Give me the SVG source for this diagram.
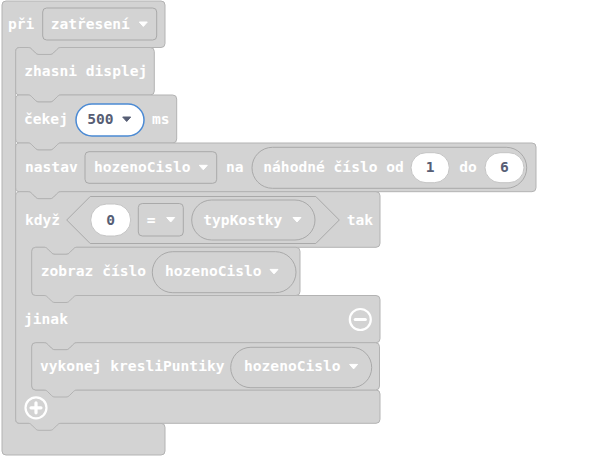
<svg xmlns="http://www.w3.org/2000/svg" width="589" height="456" viewBox="0 0 589 456">
<style>
.blk{fill:#d3d3d3;stroke:#b3b3b3;stroke-width:1}
.fld{fill:#d3d3d3;stroke:#a9a9a9;stroke-width:1}
.wht{fill:#ffffff;stroke:#c4c4c4;stroke-width:1}
.sel{fill:#ffffff;stroke:#4b8ad4;stroke-width:1.5}
.t{font-family:"DejaVu Sans Mono","Liberation Mono",monospace;font-weight:bold;font-size:14.6px;fill:#ffffff}
.d{fill:#575e75}
.m{text-anchor:middle}
.aw{fill:#ffffff;stroke:#ffffff;stroke-width:1;stroke-linejoin:round}
.ad{fill:#575e75;stroke:#575e75;stroke-width:1;stroke-linejoin:round}
.ic{fill:none;stroke:#ffffff;stroke-width:2.2}
.bar{fill:none;stroke:#ffffff;stroke-width:3.2;stroke-linecap:round}
</style>
<rect width="589" height="456" fill="#ffffff"/>
<g id="hat-pri-zatreseni">
<path class="blk" d="M2,5 Q2,1 6,1 H161 Q165,1 165,5 V43.5 Q165,47.5 161,47.5 H60.8 c -1.8,0 -2.7,0.9 -3.6,1.8 l -3.6,3.6 c -0.9,0.9 -1.8,1.6 -3.6,1.6 h -11 c -1.8,0 -2.7,-0.7 -3.6,-1.6 l -3.6,-3.6 c -0.9,-0.9 -1.8,-1.8 -3.6,-1.8 H19.7 Q15.7,47.5 15.7,51.5 V419.3 Q15.7,423.3 19.7,423.3 H161 Q165,423.3 165,427.3 V451 Q165,455 161,455 H6 Q2,455 2,451 Z"/>
<text class="t" x="8" y="29">při</text>
<rect class="fld" x="42.7" y="8" width="114" height="32" rx="4"/>
<text class="t" x="50.7" y="29">zatřesení</text>
<path class="aw" d="M139.3,22 h8 l-4,4.5 z"/>
</g>
<g id="zhasni-displej">
<path class="blk" d="M15.7,51.5 Q15.7,47.5 19.7,47.5 H28.2 c 1.8,0 2.7,0.9 3.6,1.8 l 3.6,3.6 c 0.9,0.9 1.8,1.6 3.6,1.6 h 11 c 1.8,0 2.7,-0.7 3.6,-1.6 l 3.6,-3.6 c 0.9,-0.9 1.8,-1.8 3.6,-1.8 H150.3 Q154.3,47.5 154.3,51.5 V91 Q154.3,95 150.3,95 H60.8 c -1.8,0 -2.7,0.9 -3.6,1.8 l -3.6,3.6 c -0.9,0.9 -1.8,1.6 -3.6,1.6 h -11 c -1.8,0 -2.7,-0.7 -3.6,-1.6 l -3.6,-3.6 c -0.9,-0.9 -1.8,-1.8 -3.6,-1.8 H19.7 Q15.7,95 15.7,91 Z"/>
<text class="t" x="24.3" y="76.3">zhasni displej</text>
</g>
<g id="cekej">
<path class="blk" d="M15.7,99 Q15.7,95 19.7,95 H28.2 c 1.8,0 2.7,0.9 3.6,1.8 l 3.6,3.6 c 0.9,0.9 1.8,1.6 3.6,1.6 h 11 c 1.8,0 2.7,-0.7 3.6,-1.6 l 3.6,-3.6 c 0.9,-0.9 1.8,-1.8 3.6,-1.8 H172.7 Q176.7,95 176.7,99 V139 Q176.7,143 172.7,143 H60.8 c -1.8,0 -2.7,0.9 -3.6,1.8 l -3.6,3.6 c -0.9,0.9 -1.8,1.6 -3.6,1.6 h -11 c -1.8,0 -2.7,-0.7 -3.6,-1.6 l -3.6,-3.6 c -0.9,-0.9 -1.8,-1.8 -3.6,-1.8 H19.7 Q15.7,143 15.7,139 Z"/>
<text class="t" x="24" y="124">čekej</text>
<rect class="sel" x="76" y="104" width="68" height="32" rx="16"/>
<text class="t d" x="87.3" y="124">500</text>
<path class="ad" d="M122.7,117 h8 l-4,4.5 z"/>
<text class="t" x="152" y="124">ms</text>
</g>
<g id="nastav">
<path class="blk" d="M15.7,147 Q15.7,143 19.7,143 H28.2 c 1.8,0 2.7,0.9 3.6,1.8 l 3.6,3.6 c 0.9,0.9 1.8,1.6 3.6,1.6 h 11 c 1.8,0 2.7,-0.7 3.6,-1.6 l 3.6,-3.6 c 0.9,-0.9 1.8,-1.8 3.6,-1.8 H532 Q536,143 536,147 V187.7 Q536,191.7 532,191.7 H60.8 c -1.8,0 -2.7,0.9 -3.6,1.8 l -3.6,3.6 c -0.9,0.9 -1.8,1.6 -3.6,1.6 h -11 c -1.8,0 -2.7,-0.7 -3.6,-1.6 l -3.6,-3.6 c -0.9,-0.9 -1.8,-1.8 -3.6,-1.8 H19.7 Q15.7,191.7 15.7,187.7 Z"/>
<text class="t" x="25" y="172.3">nastav</text>
<rect class="fld" x="85" y="151.7" width="131.7" height="31.6" rx="4"/>
<text class="t" x="94" y="172.3">hozenoCislo</text>
<path class="aw" d="M199.3,165.3 h8 l-4,4.5 z"/>
<text class="t" x="226" y="172.3">na</text>
<rect class="fld" x="252" y="147.3" width="274.7" height="41" rx="20.5"/>
<text class="t" x="263.3" y="172.3">náhodné číslo od</text>
<rect class="wht" x="411" y="152.7" width="38.3" height="30" rx="15"/>
<text class="t d m" x="430.2" y="172.3">1</text>
<text class="t" x="459.3" y="172.3">do</text>
<rect class="wht" x="485" y="152.7" width="39" height="30" rx="15"/>
<text class="t d m" x="504.5" y="172.3">6</text>
</g>
<g id="kdyz-jinak">
<path class="blk" d="M15.7,195.7 Q15.7,191.7 19.7,191.7 H28.2 c 1.8,0 2.7,0.9 3.6,1.8 l 3.6,3.6 c 0.9,0.9 1.8,1.6 3.6,1.6 h 11 c 1.8,0 2.7,-0.7 3.6,-1.6 l 3.6,-3.6 c 0.9,-0.9 1.8,-1.8 3.6,-1.8 H376 Q380,191.7 380,195.7 V243.3 Q380,247.3 376,247.3 H76.8 c -1.8,0 -2.7,0.9 -3.6,1.8 l -3.6,3.6 c -0.9,0.9 -1.8,1.6 -3.6,1.6 h -11 c -1.8,0 -2.7,-0.7 -3.6,-1.6 l -3.6,-3.6 c -0.9,-0.9 -1.8,-1.8 -3.6,-1.8 H35.7 Q31.7,247.3 31.7,251.3 V291.5 Q31.7,295.5 35.7,295.5 H376 Q380,295.5 380,299.5 V338.7 Q380,342.7 376,342.7 H76.8 c -1.8,0 -2.7,0.9 -3.6,1.8 l -3.6,3.6 c -0.9,0.9 -1.8,1.6 -3.6,1.6 h -11 c -1.8,0 -2.7,-0.7 -3.6,-1.6 l -3.6,-3.6 c -0.9,-0.9 -1.8,-1.8 -3.6,-1.8 H35.7 Q31.7,342.7 31.7,346.7 V386 Q31.7,390 35.7,390 H376 Q380,390 380,394 V419.3 Q380,423.3 376,423.3 H60.8 c -1.8,0 -2.7,0.9 -3.6,1.8 l -3.6,3.6 c -0.9,0.9 -1.8,1.6 -3.6,1.6 h -11 c -1.8,0 -2.7,-0.7 -3.6,-1.6 l -3.6,-3.6 c -0.9,-0.9 -1.8,-1.8 -3.6,-1.8 H19.7 Q15.7,423.3 15.7,419.3 Z"/>
<text class="t" x="25" y="224.5">když</text>
<path class="fld" d="M66.7,220 L90.2,196.5 H315.8 L339.3,220 L315.8,243.5 H90.2 Z"/>
<rect class="wht" x="90.7" y="204" width="40" height="32" rx="16"/>
<text class="t d m" x="110.7" y="224.5">0</text>
<rect class="fld" x="138.3" y="203.5" width="45" height="32.5" rx="4"/>
<text class="t" x="146.7" y="224.5">=</text>
<path class="aw" d="M166.7,217.5 h8 l-4,4.5 z"/>
<rect class="fld" x="191.7" y="200" width="123.3" height="40" rx="20"/>
<text class="t" x="203.3" y="224.5">typKostky</text>
<path class="aw" d="M293,217.5 h8 l-4,4.5 z"/>
<text class="t" x="346.7" y="224.5">tak</text>
<text class="t" x="24" y="324">jinak</text>
<circle class="ic" cx="360.3" cy="319.5" r="10.5"/>
<path class="bar" d="M355.3,319.5 h10"/>
<circle class="ic" cx="36" cy="407.8" r="10.5"/>
<path class="bar" d="M31,407.8 h10 M36,402.8 v10"/>
</g>
<g id="zobraz-cislo">
<path class="blk" d="M31.7,251.3 Q31.7,247.3 35.7,247.3 H44.2 c 1.8,0 2.7,0.9 3.6,1.8 l 3.6,3.6 c 0.9,0.9 1.8,1.6 3.6,1.6 h 11 c 1.8,0 2.7,-0.7 3.6,-1.6 l 3.6,-3.6 c 0.9,-0.9 1.8,-1.8 3.6,-1.8 H296 Q300,247.3 300,251.3 V291.5 Q300,295.5 296,295.5 H76.8 c -1.8,0 -2.7,0.9 -3.6,1.8 l -3.6,3.6 c -0.9,0.9 -1.8,1.6 -3.6,1.6 h -11 c -1.8,0 -2.7,-0.7 -3.6,-1.6 l -3.6,-3.6 c -0.9,-0.9 -1.8,-1.8 -3.6,-1.8 H35.7 Q31.7,295.5 31.7,291.5 Z"/>
<text class="t" x="40.7" y="276.4">zobraz číslo</text>
<rect class="fld" x="152.3" y="251.7" width="143.7" height="41" rx="20.5"/>
<text class="t" x="165" y="276.4">hozenoCislo</text>
<path class="aw" d="M270,269.4 h8 l-4,4.5 z"/>
</g>
<g id="vykonej-kresliPuntiky">
<path class="blk" d="M31.7,346.7 Q31.7,342.7 35.7,342.7 H44.2 c 1.8,0 2.7,0.9 3.6,1.8 l 3.6,3.6 c 0.9,0.9 1.8,1.6 3.6,1.6 h 11 c 1.8,0 2.7,-0.7 3.6,-1.6 l 3.6,-3.6 c 0.9,-0.9 1.8,-1.8 3.6,-1.8 H375.5 Q379.5,342.7 379.5,346.7 V386 Q379.5,390 375.5,390 H76.8 c -1.8,0 -2.7,0.9 -3.6,1.8 l -3.6,3.6 c -0.9,0.9 -1.8,1.6 -3.6,1.6 h -11 c -1.8,0 -2.7,-0.7 -3.6,-1.6 l -3.6,-3.6 c -0.9,-0.9 -1.8,-1.8 -3.6,-1.8 H35.7 Q31.7,390 31.7,386 Z"/>
<text class="t" x="40" y="371.4">vykonej kresliPuntiky</text>
<rect class="fld" x="230.7" y="347.3" width="141" height="40.4" rx="20.2"/>
<text class="t" x="244" y="371.4">hozenoCislo</text>
<path class="aw" d="M349.6,364.4 h8 l-4,4.5 z"/>
</g>
<g id="connectors"></g>
</svg>
